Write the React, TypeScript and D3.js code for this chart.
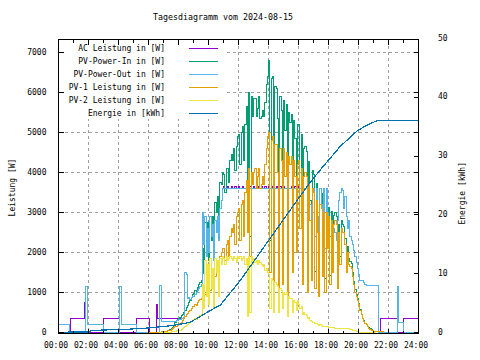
import React from "react";
import * as d3 from "d3";

const title = "Tagesdiagramm vom 2024-08-15";
const yLabelLeft = "Leistung [W]";
const yLabelRight = "Energie [kWh]";
const xTickLabels = ["00:00", "02:00", "04:00", "06:00", "08:00", "10:00", "12:00", "14:00", "16:00", "18:00", "20:00", "22:00", "24:00"];
const xMinorTicks = ["01:00", "03:00", "05:00", "07:00", "09:00", "11:00", "13:00", "15:00", "17:00", "19:00", "21:00", "23:00"];
const leftTicks = [0, 1000, 2000, 3000, 4000, 5000, 6000, 7000];
const rightTicks = [0, 10, 20, 30, 40, 50];

const seriesNames = ["AC Leistung in [W]", "PV-Power-In in [W]", "PV-Power-Out in [W]", "PV-1 Leistung in [W]", "PV-2 Leistung in [W]", "Energie in [kWh]"];
const seriesColors = ["#9400d3", "#009e73", "#56b4e9", "#e69f00", "#f0e442", "#0072b2"];

// 5-minute samples from 07:00 to 21:00
const gridStart = "07:00";
const gridStep = 5;

const pv1Grid = [
  20, 25, 30, 40, 50, 60, 80, 100, 120, 140, 160, 180,
  200, 230, 260, 300, 350, 400, 450, 480, 520, 560, 600, 640,
  650, 700, 680, 750, 800, 820, 850, 900, 870, 950, 1000, 1050,
  1100, 1050, 1200, 1300, 1250, 1400, 1500, 1600, 1700, 1900, 2000, 2100,
  2100, 1800, 2200, 2300, 1900, 2400, 2600, 2500, 2700, 2200, 2900, 3000,
  3100, 2300, 3200, 3300, 2400, 3500, 3800, 2500, 4100, 1900, 4000, 3700,
  4000, 4100, 3600, 3900, 4100, 3600, 3700, 3900, 3700, 4200, 4600, 4900,
  5000, 1500, 4800, 4900, 700, 4700, 4700, 4000, 900, 4600, 4300, 1200,
  4600, 3900, 4500, 800, 4400, 4200, 4400, 1500, 4300, 3900, 2000, 4200,
  4300, 2600, 4100, 1200, 3900, 4000, 3900, 1000, 3700, 2800, 1300, 3600,
  3500, 1100, 3300, 2500, 900, 3200, 3100, 1400, 3000, 1000, 3000, 2100,
  2900, 1200, 2800, 1500, 2700, 2800, 2700, 1100, 2500, 1700, 2600, 2500,
  2500, 2200, 1500, 2000, 1700, 1650, 1600, 1400, 1200, 1000, 900, 800,
  700, 550, 450, 350, 280, 220, 200, 150, 110, 80, 60, 40,
  30,
];

const pv2Grid = [
  0, 0, 5, 5, 10, 10, 15, 20, 25, 30, 40, 45,
  50, 60, 80, 100, 130, 160, 180, 200, 220, 250, 280, 300,
  320, 350, 330, 380, 400, 420, 450, 1200, 600, 1800, 900, 1700,
  700, 1850, 1100, 1600, 600, 1850, 1500, 1800, 900, 1850, 1700, 1900,
  1850, 1700, 1900, 1800, 1850, 1900, 1850, 1800, 1900, 1850, 1750, 1900,
  1850, 1900, 1800, 1850, 1900, 1700, 1850, 400, 1900, 500, 1900, 1700,
  1850, 1750, 1800, 1700, 1800, 1750, 1700, 1650, 1700, 1550, 1600, 1500,
  1450, 600, 1350, 1300, 500, 1250, 1200, 1150, 500, 1100, 1050, 600,
  1000, 950, 1000, 400, 900, 850, 850, 500, 800, 750, 550, 800,
  700, 600, 650, 450, 500, 450, 420, 350, 380, 300, 280, 260,
  240, 220, 230, 200, 180, 190, 170, 160, 150, 150, 140, 140,
  130, 130, 120, 130, 120, 110, 110, 100, 100, 100, 90, 90,
  90, 100, 110, 100, 90, 80, 70, 60, 50, 40, 30, 20,
  10, 5, 0, 0, 0, 0, 0, 0, 0, 0, 0, 0,
  0,
];

const pvInGrid = [
  20, 25, 35, 45, 60, 70, 95, 120, 150, 250, 300, 320,
  350, 380, 420, 460, 500, 560, 630, 680, 740, 810, 880, 940,
  970, 1050, 1010, 1130, 1200, 1240, 1300, 2100, 1470, 2750, 1900, 2750,
  1800, 2900, 2300, 2900, 1850, 3250, 3000, 3400, 2600, 3750, 3700, 4000,
  3950, 3500, 4100, 4100, 3750, 4300, 4450, 4300, 4600, 4050, 4650, 4900,
  4950, 4200, 5000, 5150, 4300, 5200, 5650, 2900, 6000, 2400, 5900, 5400,
  5850, 5850, 5400, 5600, 5900, 5350, 5400, 5550, 5400, 5750, 6200, 6400,
  6800, 2300, 6350, 6400, 1400, 6150, 6100, 5350, 1600, 5900, 5550, 2000,
  5800, 5050, 5700, 1400, 5500, 5250, 5450, 2200, 5300, 4850, 2750, 5200,
  5200, 3400, 4950, 1850, 4600, 4650, 4520, 1550, 4280, 3300, 1780, 4060,
  3940, 1520, 3730, 2900, 1280, 3590, 3470, 1760, 3350, 1350, 3340, 2440,
  3130, 1430, 3020, 1730, 2920, 3010, 2910, 1300, 2700, 1900, 2790, 2690,
  2640, 2350, 1660, 2150, 1840, 1780, 1720, 1490, 1280, 1070, 960, 850,
  720, 570, 460, 360, 290, 230, 210, 160, 120, 90, 65, 45,
  35,
];

const pvOutGrid = [
  280, 280, 280, 280, 280, 280, 280, 280, 280, 280, 300, 310,
  320, 330, 340, 350, 380, 1500, 1450, 850, 880, 820, 870, 900,
  900, 950, 1000, 1050, 1100, 1150, 1200, 3000, 2200, 2900, 1900, 2600,
  2000, 2900, 2400, 2700, 1800, 2800, 2500, 2900, 2300, 3100, 3300, 3600,
  3600, 3600, 3600, 3600, 3600, 3600, 3600, 3600, 3600, 3600, 3600, 3600,
  3600, 3600, 3600, 3600, 3600, 3600, 3600, 3600, 3600, 3600, 3600, 3600,
  3600, 3600, 3600, 3600, 3600, 3600, 3600, 3600, 3600, 3600, 3600, 3600,
  3600, 3600, 3600, 3600, 3600, 3600, 3600, 3600, 3600, 3600, 3600, 3600,
  3600, 3600, 3600, 3600, 3600, 3600, 3600, 3600, 3600, 3600, 3600, 3600,
  3600, 3600, 3600, 3600, 3600, 3600, 3600, 2600, 3600, 3200, 2200, 3600,
  3600, 2400, 3600, 2900, 2000, 3600, 3200, 2300, 3600, 2100, 3600, 3000,
  2900, 2400, 2700, 2200, 2600, 2500, 2300, 2800, 3300, 3500, 3600, 3550,
  3100, 3400, 2900, 2600, 2800, 2400, 2300, 2200, 2050, 1900, 1750, 1600,
  1450, 1300, 1300, 1300, 1250, 1200, 1180, 1170, 1170, 1170, 1170, 1170,
  1170,
];

const acGrid = [
  360, 360, 360, 360, 360, 360, 360, 360, 360, 360, 360, 360,
  360, 360, 360, 360, 360, 1500, 1450, 850, 880, 820, 870, 900,
  900, 950, 1000, 1050, 1100, 1150, 1200, 3000, 2200, 2900, 1900, 2600,
  2000, 2900, 2400, 2700, 1800, 2800, 2500, 2900, 2300, 3100, 3300, 3600,
  3650, 3600, 3600, 3650, 3600, 3600, 3650, 3600, 3600, 3650, 3600, 3600,
  3650, 3600, 3600, 3650, 3600, 3600, 3650, 3600, 3600, 3650, 3600, 3600,
  3650, 3600, 3600, 3650, 3600, 3600, 3650, 3600, 3600, 3650, 3600, 3600,
  3650, 3600, 3600, 3650, 3600, 3600, 3650, 3600, 3600, 3650, 3600, 3600,
  3650, 3600, 3600, 3650, 3600, 3600, 3650, 3600, 3600, 3650, 3600, 3600,
  3650, 3600, 3600, 3600, 3600, 3600, 3600, 2600, 3600, 3200, 2200, 3600,
  3600, 2400, 3600, 2900, 2000, 3600, 3200, 2300, 3600, 2100, 3600, 3000,
  2900, 2400, 2700, 2200, 2600, 2500, 2300, 2800, 3300, 3500, 3600, 3550,
  3100, 3400, 2900, 2600, 2800, 2400, 2300, 2200, 2050, 1900, 1750, 1600,
  1450, 1300, 1300, 1300, 1250, 1200, 1180, 1170, 1170, 1170, 1170, 1170,
  1170,
];

// Step breakpoints outside the 5-minute window
const acPre: [string, number][] = [["00:00", 0], ["00:47", 360], ["01:43", 750], ["01:47", 0], ["03:00", 360], ["04:03", 0], ["05:12", 360], ["06:03", 0], ["06:33", 700], ["06:37", 360]];
const acPost: [string, number][] = [["21:18", 0], ["21:28", 360], ["22:35", 0], ["22:59", 360], ["24:00", 360]];
const pvOutPre: [string, number][] = [["00:00", 190], ["00:45", 0], ["01:46", 1150], ["01:54", 190], ["03:00", 0], ["04:03", 1150], ["04:10", 190], ["05:12", 0], ["06:43", 1170], ["06:51", 280]];
const pvOutPost: [string, number][] = [["21:18", 0], ["22:35", 1150], ["22:41", 240], ["22:59", 0], ["24:00", 0]];
const pv1Pre: [string, number][] = [["05:55", 0], ["06:30", 5], ["06:50", 15]];
const pv1Post: [string, number][] = [["21:05", 25], ["21:20", 15], ["21:40", 0]];
const pv2Pre: [string, number][] = [["06:40", 0]];
const pv2Post: [string, number][] = [["21:10", 0]];
const pvInPre: [string, number][] = [["06:30", 0], ["06:50", 10]];
const pvInPost: [string, number][] = [["21:05", 30], ["21:20", 15], ["21:40", 0]];

const energy: [string, number][] = [
  ["00:00", 0.05], ["02:05", 0.1], ["02:10", 0.35], ["04:35", 0.55], ["06:08", 0.8], ["07:40", 1.2],
  ["08:48", 1.75], ["09:55", 3.45], ["10:48", 4.7], ["12:08", 8.9], ["13:28", 13.7], ["14:28", 17.3],
  ["15:48", 22.1], ["16:48", 25.6], ["17:28", 27.7], ["18:48", 31.7], ["19:55", 34.3], ["20:30", 35.2],
  ["21:08", 35.9], ["21:20", 36.1], ["24:00", 36.1],
];

type P = { t: number; v: number };
const toMin = (s: string) => {
  const [h, m] = s.split(":").map(Number);
  return h * 60 + m;
};
const build = (pre: [string, number][], grid: number[], post: [string, number][]): P[] => {
  const g0 = toMin(gridStart);
  return [
    ...pre.map(([s, v]) => ({ t: toMin(s), v })),
    ...grid.map((v, i) => ({ t: g0 + i * gridStep, v })),
    ...post.map(([s, v]) => ({ t: toMin(s), v })),
  ];
};

const FONT = "'DejaVu Sans Mono', monospace";

export default function App() {
  const W = 480, H = 360;
  const x0 = 58.5, x1 = 418.5, yTop = 39.5, yBot = 333.5;
  const x = d3.scaleLinear().domain([0, 1440]).range([x0, x1]);
  const yL = d3.scaleLinear().domain([0, 7000]).range([332.5, 52.5]);
  const yR = d3.scaleLinear().domain([0, 50]).range([332.5, 38.5]);

  const stepLine = d3.line<P>().x((d) => x(d.t)).y((d) => yL(d.v)).curve(d3.curveStepAfter);
  const eLine = d3.line<P>().x((d) => x(d.t)).y((d) => yR(d.v));

  const ac = build(acPre, acGrid, acPost);
  const pvIn = build(pvInPre, pvInGrid, pvInPost);
  const pvOut = build(pvOutPre, pvOutGrid, pvOutPost);
  const pv1 = build(pv1Pre, pv1Grid, pv1Post);
  const pv2 = build(pv2Pre, pv2Grid, pv2Post);
  const en: P[] = energy.map(([s, v]) => ({ t: toMin(s), v }));

  const powerSeries = [ac, pvIn, pvOut, pv1, pv2];

  const gridColor = "#a0a0a0";
  const legendY = (i: number) => 48.5 + 13 * i;

  return (
    <svg width={W} height={H} style={{ position: "absolute", left: 0, top: 0 }} fontFamily={FONT} fontSize={8}>
      <rect x={0} y={0} width={W} height={H} fill="#ffffff" />
      <text x={223} y={20} textAnchor="middle" fontSize={8.3} fill="#000">{title}</text>

      {/* grid */}
      <g stroke={gridColor} strokeWidth={1} strokeDasharray="3,3" shapeRendering="crispEdges">
        {xTickLabels.slice(1, -1).map((s) => (
          <line key={"gx" + s} x1={x(toMin(s))} x2={x(toMin(s))} y1={yTop} y2={yBot} />
        ))}
        {leftTicks.slice(1).map((v) => (
          <line key={"gy" + v} x1={x0} x2={x1} y1={yL(v)} y2={yL(v)} />
        ))}
      </g>

      {/* legend background */}
      <rect x={x0 + 0.5} y={yTop + 0.5} width={165} height={79} fill="#ffffff" />

      {/* data */}
      <g fill="none" strokeWidth={1} shapeRendering="crispEdges">
        {powerSeries.map((s, i) => (
          <path key={"s" + i} d={stepLine(s) || ""} stroke={seriesColors[i]} />
        ))}
        <path d={eLine(en) || ""} stroke={seriesColors[5]} strokeWidth={1.2} />
      </g>

      {/* legend */}
      {seriesNames.map((n, i) => (
        <g key={"lg" + i}>
          <text x={165} y={legendY(i) + 2.8} textAnchor="end" fill="#000">{n}</text>
          <line x1={189} x2={217.5} y1={legendY(i)} y2={legendY(i)} stroke={seriesColors[i]} strokeWidth={1} shapeRendering="crispEdges" />
        </g>
      ))}

      {/* frame and ticks */}
      <g stroke="#000" strokeWidth={1} shapeRendering="crispEdges" fill="none">
        <rect x={x0} y={yTop} width={x1 - x0} height={yBot - yTop} />
        {xTickLabels.map((s) => (
          <g key={"tx" + s}>
            <line x1={x(toMin(s))} x2={x(toMin(s))} y1={yBot} y2={yBot - 5} />
            <line x1={x(toMin(s))} x2={x(toMin(s))} y1={yTop} y2={yTop + 5} />
          </g>
        ))}
        {xMinorTicks.map((s) => (
          <g key={"mx" + s}>
            <line x1={x(toMin(s))} x2={x(toMin(s))} y1={yBot} y2={yBot - 3} />
            <line x1={x(toMin(s))} x2={x(toMin(s))} y1={yTop} y2={yTop + 3} />
          </g>
        ))}
        {leftTicks.map((v) => (
          <g key={"ty" + v}>
            <line x1={x0} x2={x0 + 5} y1={yL(v)} y2={yL(v)} />
            <line x1={x1} x2={x1 - 5} y1={yL(v)} y2={yL(v)} />
          </g>
        ))}
        {rightTicks.filter((v) => yR(v) > yTop).map((v) => (
          <line key={"ty2" + v} x1={x1} x2={x1 - 5} y1={yR(v)} y2={yR(v)} />
        ))}
      </g>

      {/* tick labels */}
      <g fill="#000">
        {xTickLabels.map((s) => (
          <text key={"lx" + s} x={x(toMin(s)) - 2.5} y={347.5} textAnchor="middle">{s}</text>
        ))}
        {leftTicks.map((v) => (
          <text key={"ly" + v} x={46.5} y={yL(v) + 2} textAnchor="end">{String(v)}</text>
        ))}
        {rightTicks.map((v) => (
          <text key={"ly2" + v} x={438} y={yR(v) + 2} textAnchor="start">{String(v)}</text>
        ))}
      </g>

      <text transform="translate(15,187.5) rotate(-90)" textAnchor="middle" fill="#000">{yLabelLeft}</text>
      <text transform="translate(464.5,193.3) rotate(-90)" textAnchor="middle" fill="#000">{yLabelRight}</text>
    </svg>
  );
}
